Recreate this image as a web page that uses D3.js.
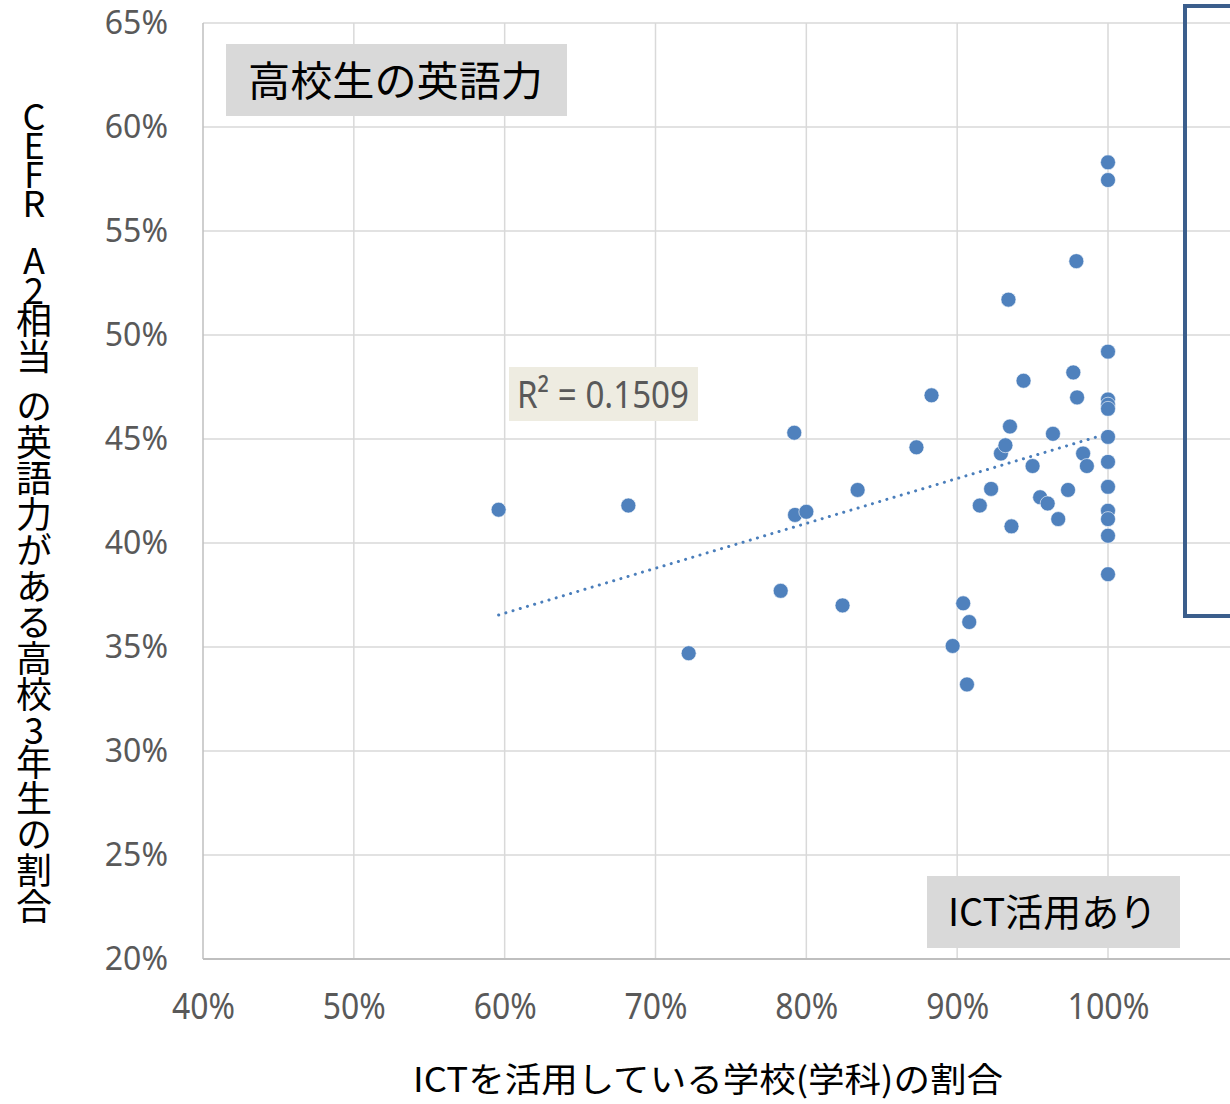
<!DOCTYPE html>
<html>
<head>
<meta charset="utf-8">
<script src="https://d3js.org/d3.v7.min.js"></script>
<style>
  body { margin: 0; background: #fff; }
  svg { display: block; font-family: "Noto Sans CJK JP", "Noto Sans", sans-serif; }
</style>
</head>
<body>
<div class="chart"></div>
<script>
  // ICT活用率 (x) と CEFR A2相当の割合 (y), 単位 %
  const ictPct = [59.6, 68.2, 72.2, 78.3, 79.2, 79.25, 80.0, 82.4, 83.4, 87.3,
                  88.3, 90.4, 89.7, 90.8, 90.65, 91.5, 92.25, 92.9, 93.2, 93.5,
                  93.6, 93.4, 94.4, 95.0, 95.5, 96.0, 96.35, 96.7, 97.35, 97.7,
                  97.9, 97.95, 98.35, 98.6,
                  100, 100, 100, 100, 100, 100, 100, 100, 100, 100, 100, 100, 100];
  const a2Pct  = [41.6, 41.8, 34.7, 37.7, 45.3, 41.35, 41.5, 37.0, 42.55, 44.6,
                  47.1, 37.1, 35.05, 36.2, 33.2, 41.8, 42.6, 44.3, 44.7, 45.6,
                  40.8, 51.7, 47.8, 43.7, 42.2, 41.9, 45.25, 41.15, 42.55, 48.2,
                  53.55, 47.0, 44.3, 43.7,
                  58.3, 57.45, 49.2, 46.9, 46.65, 46.45, 45.1, 43.9, 42.7, 41.55, 41.15, 40.35, 38.5];
  const xTicks = [40, 50, 60, 70, 80, 90, 100];
  const yTicks = [20, 25, 30, 35, 40, 45, 50, 55, 60, 65];
  const titleText = "高校生の英語力";
  const groupText = "ICT活用あり";
  const r2Text = "R² = 0.1509";
  const xTitle = "ICTを活用している学校(学科)の割合";
  // y title pieces: [text, letter-spacing]
  const yTitleParts = [["CEFR", -7], [" ", -8], ["A2", -6], ["相当", 0], [" ", -22], ["の英語力がある高校", 0], ["3", -4], ["年生の割合", 0]];

  const width = 1230, height = 1104;
  const mLeft = 203, mTop = 23, mBottom = 959, plotRight = 1230;

  const svg = d3.select(".chart").append("svg")
    .attr("width", width)
    .attr("height", height);

  const x = d3.scaleLinear().domain([40, 100]).range([mLeft, 1108]);
  const y = d3.scaleLinear().domain([20, 65]).range([mBottom, mTop]);

  // grid
  svg.append("g").selectAll("line")
    .data(xTicks.slice(1))
    .join("line")
    .attr("x1", d => x(d)).attr("x2", d => x(d))
    .attr("y1", mTop).attr("y2", mBottom)
    .attr("stroke", "#d9d9d9").attr("stroke-width", 1.5);

  svg.append("g").selectAll("line")
    .data(yTicks.slice(1))
    .join("line")
    .attr("x1", mLeft).attr("x2", plotRight)
    .attr("y1", d => y(d)).attr("y2", d => y(d))
    .attr("stroke", "#d9d9d9").attr("stroke-width", 1.5);

  // axes lines
  svg.append("line")
    .attr("x1", mLeft).attr("x2", mLeft).attr("y1", mTop).attr("y2", mBottom)
    .attr("stroke", "#bfbfbf").attr("stroke-width", 1.5);
  svg.append("line")
    .attr("x1", mLeft).attr("x2", plotRight).attr("y1", mBottom).attr("y2", mBottom)
    .attr("stroke", "#bfbfbf").attr("stroke-width", 2);

  // tick labels
  const yAxis = d3.axisLeft(y).tickValues(yTicks).tickFormat(d => d + "%").tickSize(0).tickPadding(35);
  const gy = svg.append("g").attr("transform", `translate(${mLeft},0)`).call(yAxis);
  gy.select(".domain").remove();
  gy.selectAll("text")
    .attr("fill", "#595959")
    .style("font-family", "'Noto Sans', sans-serif")
    .style("font-size", "32px");

  const xAxis = d3.axisBottom(x).tickValues(xTicks).tickFormat(d => d + "%").tickSize(0).tickPadding(0);
  const gx = svg.append("g").attr("transform", `translate(0,${mBottom})`).call(xAxis);
  gx.select(".domain").remove();
  gx.selectAll("text")
    .attr("fill", "#595959")
    .attr("y", 60)
    .attr("dy", null)
    .style("font-family", "'Noto Sans', sans-serif")
    .style("font-size", "36px")
    .attr("textLength", d => d === 100 ? 82 : 63)
    .attr("lengthAdjust", "spacingAndGlyphs");

  // trendline (least squares)
  const n = ictPct.length;
  const mx = d3.mean(ictPct), my = d3.mean(a2Pct);
  let sxy = 0, sxx = 0;
  for (let i = 0; i < n; i++) {
    sxy += (ictPct[i] - mx) * (a2Pct[i] - my);
    sxx += (ictPct[i] - mx) ** 2;
  }
  const slope = sxy / sxx, icpt = my - slope * mx;
  const x0 = d3.min(ictPct), x1 = d3.max(ictPct);

  svg.append("line")
    .attr("x1", x(x0)).attr("y1", y(icpt + slope * x0))
    .attr("x2", x(x1)).attr("y2", y(icpt + slope * x1))
    .attr("stroke", "#4a7ebb")
    .attr("stroke-width", 3)
    .attr("stroke-linecap", "round")
    .attr("stroke-dasharray", "0.1,7.4");

  // points
  svg.append("g").selectAll("circle")
    .data(ictPct.map((v, i) => [v, a2Pct[i]]))
    .join("circle")
    .attr("cx", d => x(d[0]))
    .attr("cy", d => y(d[1]))
    .attr("r", 7.5)
    .attr("fill", "#4f81bd")
    .attr("stroke", "#fff")
    .attr("stroke-width", 0.6);

  // R² label
  svg.append("rect")
    .attr("x", 509).attr("y", 367).attr("width", 189).attr("height", 54)
    .attr("fill", "#eeece1");
  svg.append("text")
    .attr("x", 517).attr("y", 408)
    .attr("fill", "#595959")
    .style("font-family", "'Noto Sans', sans-serif")
    .style("font-size", "38px")
    .attr("textLength", 172)
    .attr("lengthAdjust", "spacingAndGlyphs")
    .text(r2Text);

  // title box
  svg.append("rect")
    .attr("x", 226).attr("y", 44).attr("width", 341).attr("height", 72)
    .attr("fill", "#d9d9d9");
  svg.append("text")
    .attr("x", 248).attr("y", 96)
    .attr("fill", "#000")
    .style("font-size", "41px")
    .attr("textLength", 295)
    .attr("lengthAdjust", "spacingAndGlyphs")
    .text(titleText);

  // group label box
  svg.append("rect")
    .attr("x", 927).attr("y", 876).attr("width", 253).attr("height", 72)
    .attr("fill", "#d9d9d9");
  svg.append("text")
    .attr("x", 948).attr("y", 926)
    .attr("fill", "#000")
    .style("font-size", "38px")
    .attr("textLength", 209)
    .attr("lengthAdjust", "spacingAndGlyphs")
    .text(groupText);

  // outline box on the right
  svg.append("rect")
    .attr("x", 1185).attr("y", 6).attr("width", 100).attr("height", 610)
    .attr("fill", "none")
    .attr("stroke", "#3b5e8c")
    .attr("stroke-width", 4);

  // axis titles
  svg.append("text")
    .attr("x", 708).attr("y", 1092)
    .attr("text-anchor", "middle")
    .attr("fill", "#000")
    .style("font-size", "34px")
    .attr("textLength", 590)
    .attr("lengthAdjust", "spacingAndGlyphs")
    .text(xTitle);

  const yt = svg.append("text")
    .attr("x", 34).attr("y", 98)
    .attr("fill", "#000")
    .style("font-size", "36px")
    .style("writing-mode", "vertical-rl")
    .style("text-orientation", "upright")
    .style("white-space", "pre");
  yt.selectAll("tspan")
    .data(yTitleParts)
    .join("tspan")
    .style("letter-spacing", d => d[1] + "px")
    .text(d => d[0]);
</script>
</body>
</html>
